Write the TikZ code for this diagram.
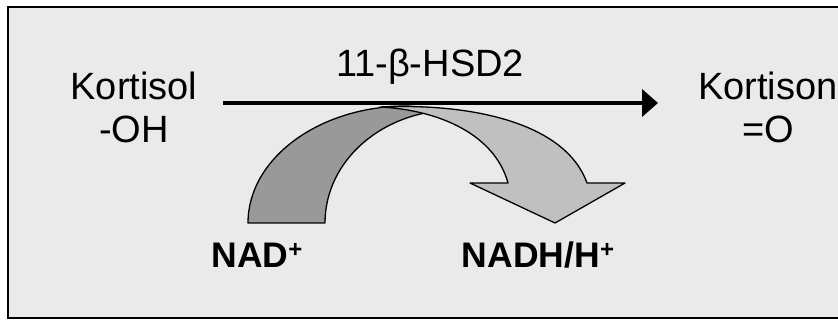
\documentclass[tikz,border=0pt]{standalone}
\usepackage{fontspec}
\setmainfont{Liberation Sans}
\usetikzlibrary{arrows.meta}
\definecolor{Panel}{RGB}{234,234,234}
\definecolor{BandDark}{RGB}{153,153,153}
\definecolor{BandLight}{RGB}{192,192,192}
\newcommand{\ionplus}{\raisebox{10pt}{\fontsize{24}{24}\selectfont+}}

\begin{document}
\begin{tikzpicture}[x=1pt,y=-1pt,
  substance/.style={font=\fontsize{38}{43}\selectfont,align=center,anchor=base,inner sep=0pt},
  cofactor/.style={font=\fontsize{35.5}{40}\selectfont\bfseries,anchor=base,inner sep=0pt},
  band/.style={draw=black,line width=1.3pt,line join=round}]
\useasboundingbox (0,0) rectangle (838,320);
\clip (0,0) rectangle (838,320);
\draw[fill=Panel,line width=1.6pt] (8,7) rectangle (850,318);
% substrate, product, enzyme (base = last line)
\node[substance] (kortisol) at (134,143) {Kortisol\\-OH};
\node[substance] (kortison) at (768,143) {Kortison\\=O};
\node[substance] (enzyme) at (430,77) {11-β-HSD2};
\node[cofactor] (nad) at (257,268) {NAD\ionplus};
\node[cofactor] (nadh) at (538,268) {NADH/H\ionplus};
% curved cofactor arrow: dark back part, then light front part
\draw[band,fill=BandDark] (248,223) .. controls (248,158.4) and (319.2,106) .. (407,106)
  -- (455,110) .. controls (383.2,110) and (325,160.1) .. (325,223) -- cycle;
\draw[band,fill=BandLight] (380,107) .. controls (470,103) and (565,122) .. (587,183)
  -- (625,183) -- (555,223) -- (470,183) -- (508,183)
  .. controls (495,135) and (440,110) .. (380,107) -- cycle;
% reaction arrow
\coordinate (rxnstart) at (223,103);
\coordinate (rxnend) at (658,103);
\draw[line width=4pt,-{Triangle[length=16pt,width=27pt]}] (rxnstart) -- (rxnend);
\end{tikzpicture}
\end{document}
